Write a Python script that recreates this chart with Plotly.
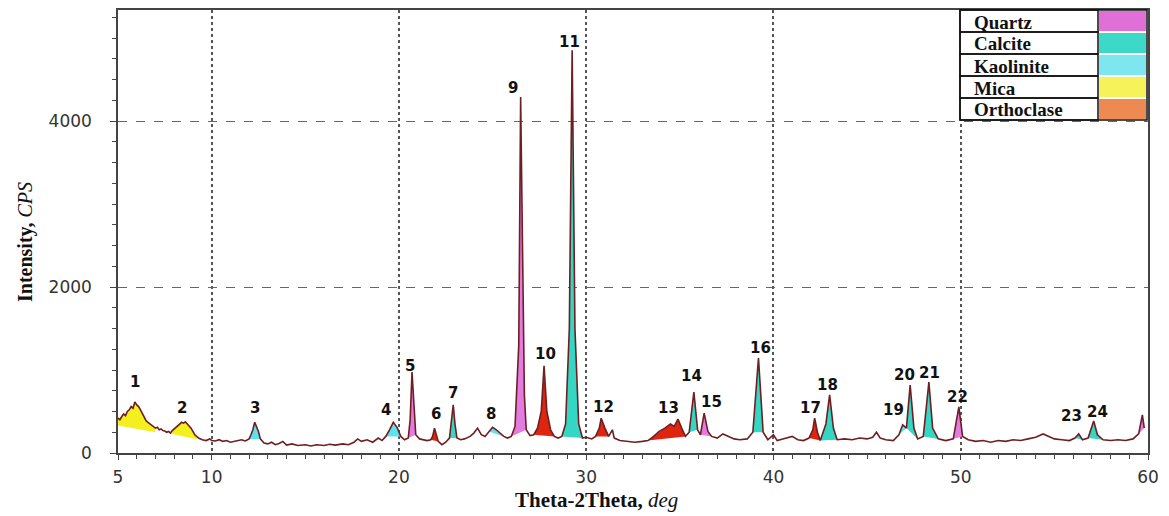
import plotly.graph_objects as go

# ---------------- data ----------------
two_theta = [5.0, 5.1, 5.2, 5.3, 5.4, 5.5, 5.6, 5.7, 5.8, 5.9, 6.0, 6.1, 6.2, 6.3, 6.4, 6.5, 6.6, 6.7, 6.8, 6.9,
             7.0, 7.1, 7.2, 7.3, 7.4, 7.5, 7.6, 7.7, 7.8, 7.9, 8.0, 8.1, 8.2, 8.3, 8.4, 8.5, 8.6, 8.7, 8.8, 8.9,
             9.0, 9.1, 9.2, 9.3, 9.5, 9.7, 9.9, 10.0, 10.2, 10.4, 10.6, 10.8, 11.0, 11.2, 11.4, 11.6, 11.8,
             12.0, 12.1, 12.2, 12.3, 12.4, 12.5, 12.6, 12.8, 13.0, 13.2, 13.4, 13.6, 13.8, 14.0, 14.3, 14.6,
             15.0, 15.3, 15.6, 16.0, 16.3, 16.6, 17.0, 17.3, 17.6, 17.8, 18.0, 18.3, 18.6, 18.9, 19.1, 19.3,
             19.5, 19.7, 19.9, 20.1, 20.3, 20.5, 20.6, 20.7, 20.8, 20.9, 21.1, 21.3, 21.5, 21.7, 21.8, 21.9,
             22.0, 22.1, 22.3, 22.5, 22.7, 22.8, 22.9, 23.0, 23.1, 23.3, 23.5, 23.8, 24.0, 24.2, 24.4, 24.6,
             24.8, 25.0, 25.2, 25.4, 25.6, 25.8, 26.0, 26.2, 26.4, 26.5, 26.6, 26.7, 26.8, 27.0, 27.2, 27.4,
             27.6, 27.75, 27.9, 28.1, 28.3, 28.5, 28.7, 28.9, 29.1, 29.25, 29.4, 29.6, 29.8, 30.0, 30.3, 30.5,
             30.7, 30.8, 31.0, 31.2, 31.4, 31.5, 31.8, 32.2, 32.6, 33.0, 33.3, 33.6, 33.9, 34.2, 34.5, 34.7,
             34.9, 35.1, 35.3, 35.5, 35.75, 35.95, 36.1, 36.3, 36.5, 36.7, 37.0, 37.3, 37.6, 37.9, 38.2, 38.6,
             38.9, 39.2, 39.45, 39.7, 40.0, 40.2, 40.5, 41.0, 41.3, 41.6, 41.9, 42.1, 42.2, 42.35, 42.5, 42.8,
             43.0, 43.2, 43.4, 43.8, 44.2, 44.6, 45.0, 45.3, 45.5, 45.7, 46.0, 46.4, 46.7, 46.9, 47.1, 47.3,
             47.5, 47.7, 48.0, 48.3, 48.5, 48.8, 49.2, 49.6, 49.9, 50.1, 50.4, 50.8, 51.2, 51.6, 52.0, 52.4,
             52.8, 53.2, 53.6, 54.0, 54.4, 54.7, 55.0, 55.4, 55.8, 56.1, 56.3, 56.5, 56.8, 57.1, 57.3, 57.6,
             58.0, 58.4, 58.8, 59.2, 59.5, 59.7, 59.8]
intensity = [420, 400, 440, 470, 450, 500, 520, 560, 540, 615, 580, 560, 520, 480, 430, 390, 370, 350, 330, 320,
             300, 310, 280, 290, 270, 265, 250, 260, 240, 270, 290, 300, 330, 340, 370, 360, 375, 350, 330, 300,
             260, 220, 200, 180, 160, 150, 170, 150, 145, 160, 140, 150, 130, 140, 150, 160, 145,
             170, 220, 280, 370, 320, 260, 170, 120, 110, 130, 100, 115, 140, 95, 110, 90,
             100, 85, 100, 90, 105, 95, 110, 100, 130, 170, 140, 160, 130, 180, 150, 200,
             280, 370, 310, 200, 160, 180, 400, 976, 600, 220, 170, 160, 150, 160, 200, 300,
             220, 140, 100, 130, 180, 350, 580, 340, 180, 160, 170, 200, 240, 300, 220, 200,
             260, 310, 280, 240, 200, 180, 200, 320, 1300, 4290, 2200, 700, 280, 210, 220, 300,
             500, 1050, 500, 280, 200, 180, 200, 350, 1500, 4855, 1500, 350, 180, 190, 170, 200,
             300, 420, 300, 200, 280, 180, 150, 140, 130, 140, 150, 200, 260, 300, 350, 320,
             410, 300, 200, 250, 735, 280, 220, 480, 260, 200, 180, 230, 200, 170, 160, 170,
             250, 1145, 250, 160, 220, 150, 170, 200, 160, 150, 180, 280, 420, 250, 150, 350,
             700, 300, 160, 170, 160, 180, 170, 190, 250, 180, 160, 150, 220, 340, 300, 820,
             300, 170, 200, 855, 300, 170, 150, 170, 555, 200, 160, 140, 150, 130, 150, 140,
             160, 150, 170, 190, 230, 200, 170, 160, 150, 180, 230, 160, 180, 385, 220, 160,
             150, 160, 150, 170, 230, 460, 300]

minerals = ["Quartz", "Calcite", "Kaolinite", "Mica", "Orthoclase"]
legend_colors = ["#e070d8", "#3cd8c8", "#7ee6ee", "#f6f25a", "#ec8a52"]

# peak fills: start, end, mineral, base at start, base at end (None = curve value)
peak_start = [5.0, 7.8, 12.0, 19.3, 20.5, 21.7, 22.7, 24.8, 26.0, 27.2, 28.7, 30.5, 33.3, 35.5, 36.1,
              38.9, 41.9, 42.5, 46.7, 47.1, 48.0, 49.6, 56.1, 56.8, 59.5]
peak_end = [7.0, 9.2, 12.6, 20.1, 20.9, 22.1, 23.1, 25.6, 26.8, 28.3, 29.8, 31.2, 35.3, 35.95, 36.7,
            39.45, 42.5, 43.4, 47.1, 47.7, 48.8, 50.1, 56.5, 57.6, 59.8]
peak_kind = ["Mica", "Mica", "Kaolinite", "Kaolinite", "Quartz", "Red", "Calcite", "Kaolinite", "Quartz",
             "Red", "Calcite", "Red", "Red", "Calcite", "Quartz", "Calcite", "Red", "Calcite", "Kaolinite",
             "Calcite", "Calcite", "Quartz", "Calcite", "Calcite", "Quartz"]
base_start = [330, 235, None, None, None, None, None, None, None, None, None, None, None, None, None,
              None, None, None, None, None, None, None, None, None, None]
base_end = [250, 165, None, None, None, None, None, None, None, None, None, None, None, None, None,
            None, None, None, None, None, None, None, None, None, None]

label_text = [str(i) for i in range(1, 25)]
label_x = [5.9, 8.4, 12.3, 19.3, 20.6, 22.0, 22.9, 24.9, 26.1, 27.85, 29.1, 30.95, 34.4, 35.6, 36.7,
           39.3, 42.0, 42.9, 46.4, 47.0, 48.35, 49.85, 55.9, 57.3]
label_y = [855, 540, 540, 520, 1050, 470, 720, 470, 4400, 1190, 4950, 555, 540, 930, 615,
           1265, 540, 820, 520, 940, 965, 675, 445, 495]

x_ticks = [5, 10, 20, 30, 40, 50, 60]
y_ticks = [0, 2000, 4000]

# ---------------- figure ----------------
fill_colors = {"Quartz": "#e27ce0", "Calcite": "#34d6c4", "Kaolinite": "#5ee2ec",
               "Mica": "#f4f020", "Red": "#e0250f"}

fig = go.Figure()

for s, e, k, b0, b1 in zip(peak_start, peak_end, peak_kind, base_start, base_end):
    xs = [x for x in two_theta if s - 1e-9 <= x <= e + 1e-9]
    ys = [y for x, y in zip(two_theta, intensity) if s - 1e-9 <= x <= e + 1e-9]
    y0 = ys[0] if b0 is None else b0
    y1 = ys[-1] if b1 is None else b1
    fig.add_trace(go.Scatter(x=xs + [e, s], y=ys + [y1, y0], fill="toself", mode="lines",
                             line=dict(width=0), fillcolor=fill_colors[k], hoverinfo="skip",
                             showlegend=False))

fig.add_trace(go.Scatter(x=two_theta, y=intensity, mode="lines",
                         line=dict(color="#6e1f22", width=1.6), showlegend=False))

for t, x, y in zip(label_text, label_x, label_y):
    fig.add_annotation(x=x, y=y, text="<b>%s</b>" % t, showarrow=False,
                       font=dict(family="DejaVu Sans", size=15, color="#111"), xanchor="center")

# legend table (paper coordinates of plot area)
L, R, T, B = 118, 1148, 10, 453


def px2paper_x(px):
    return (px - L) / float(R - L)


def px2paper_y(py):
    return (B - py) / float(B - T)


row_edges = [10, 32, 54, 76, 98, 120]
lx0, lx1, lx2 = 960, 1098, 1147
fig.add_shape(type="rect", xref="paper", yref="paper", x0=px2paper_x(lx0), x1=px2paper_x(lx2),
              y0=px2paper_y(row_edges[-1]), y1=px2paper_y(row_edges[0]),
              line=dict(color="#111", width=1.5), fillcolor="white", layer="above")
for i, name in enumerate(minerals):
    top, bot = row_edges[i], row_edges[i + 1]
    fig.add_shape(type="rect", xref="paper", yref="paper", x0=px2paper_x(lx1 + 1), x1=px2paper_x(lx2 - 1),
                  y0=px2paper_y(bot - 1), y1=px2paper_y(top + 1),
                  line=dict(width=0), fillcolor=legend_colors[i], layer="above")
    fig.add_shape(type="rect", xref="paper", yref="paper", x0=px2paper_x(lx0), x1=px2paper_x(lx1),
                  y0=px2paper_y(bot), y1=px2paper_y(top),
                  line=dict(color="#111", width=1.5), layer="above")
    fig.add_annotation(xref="paper", yref="paper", x=px2paper_x(972), y=px2paper_y((top + bot) / 2 + 1),
                       text="<b>%s</b>" % name, showarrow=False, xanchor="left", yanchor="middle",
                       font=dict(family="Liberation Serif", size=19, color="#111"))

# axis titles as annotations
fig.add_annotation(xref="paper", yref="paper", x=px2paper_x(596), y=px2paper_y(500),
                   text="<b>Theta-2Theta,</b> <i>deg</i>", showarrow=False,
                   xanchor="center", yanchor="middle",
                   font=dict(family="Liberation Serif", size=21, color="#111"))
fig.add_annotation(xref="paper", yref="paper", x=px2paper_x(25), y=px2paper_y(242),
                   text="<b>Intensity,</b> <i>CPS</i>", showarrow=False, textangle=-90,
                   xanchor="center", yanchor="middle",
                   font=dict(family="Liberation Serif", size=20, color="#111"))

fig.update_layout(
    width=1169, height=516,
    margin=dict(l=L, r=1169 - R, t=T, b=516 - B, autoexpand=False),
    paper_bgcolor="white", plot_bgcolor="white",
    xaxis=dict(range=[5, 60], tickvals=x_ticks, ticktext=[str(v) for v in x_ticks],
               showgrid=True, gridcolor="#555", griddash="dot", gridwidth=1.5,
               showline=True, linecolor="#444", linewidth=1.5, mirror=True,
               ticks="outside", ticklen=5, tickcolor="#444",
               minor=dict(dtick=1, tick0=0, ticks="outside", ticklen=4, tickcolor="#444", showgrid=False),
               tickfont=dict(family="DejaVu Sans", size=17, color="#333"),
               ticklabelstandoff=3,
               automargin=False, zeroline=False),
    yaxis=dict(range=[0, 5340], tickvals=y_ticks, ticktext=[str(v) for v in y_ticks],
               showgrid=True, gridcolor="#666", griddash="dash", gridwidth=1.2,
               showline=True, linecolor="#444", linewidth=1.5, mirror=True,
               ticks="outside", ticklen=6, tickcolor="#444",
               minor=dict(dtick=250, ticks="outside", ticklen=4, tickcolor="#444", showgrid=False),
               tickfont=dict(family="DejaVu Sans", size=17, color="#333"),
               ticklabelstandoff=15,
               automargin=False, zeroline=False),
)

fig.write_html("out.html", config={"displayModeBar": False},
               post_script="document.body.style.margin='0';document.body.style.overflow='hidden';")
